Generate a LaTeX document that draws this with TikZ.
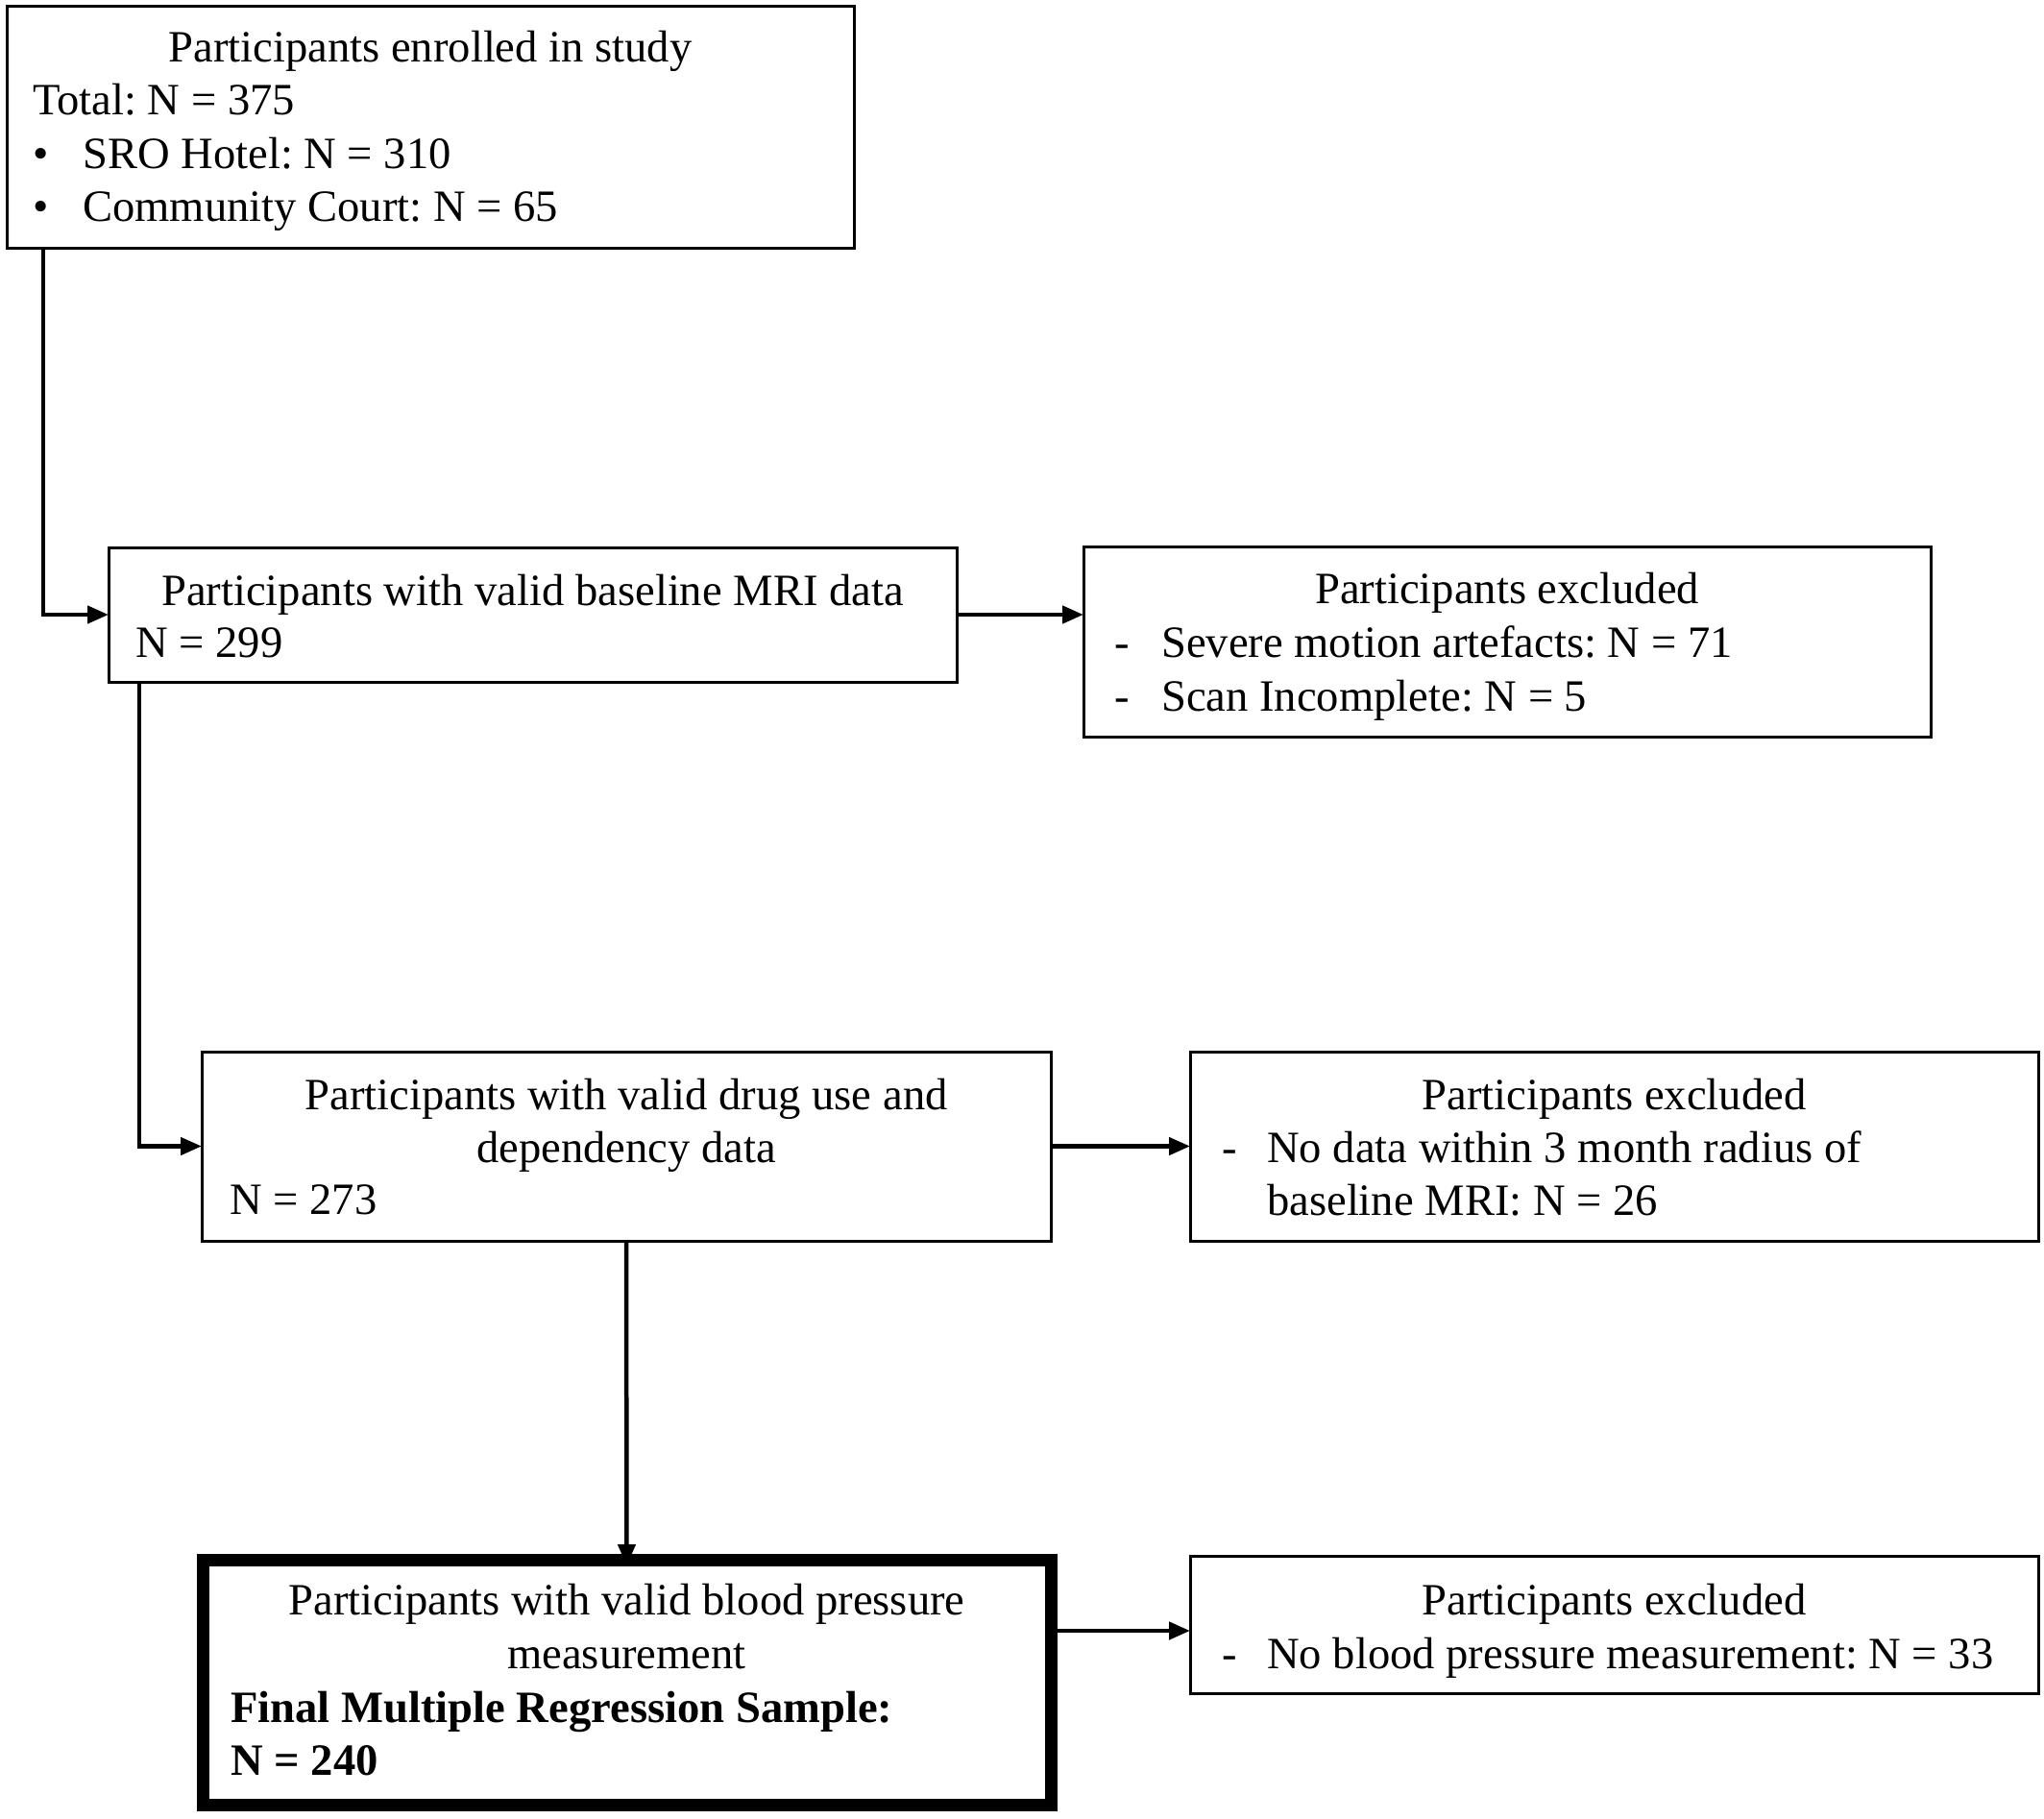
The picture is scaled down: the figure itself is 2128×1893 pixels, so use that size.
\documentclass[tikz,border=0pt]{standalone}
\usepackage{fontspec}
\setmainfont{Liberation Serif}
\usetikzlibrary{arrows.meta}
\frenchspacing
\begin{document}
\begin{tikzpicture}[x=1pt,y=-1pt,
  font=\fontsize{46.6}{56}\selectfont,
  box/.style={draw=black,line width=3pt,rectangle,inner sep=0pt,outer sep=0pt},
  finalbox/.style={draw=black,line width=13pt,rectangle,inner sep=0pt,outer sep=0pt},
  ctext/.style={anchor=base,inner sep=0pt},
  ltext/.style={anchor=base west,inner sep=0pt},
  conn/.style={line width=4.5pt,-{Triangle[length=22pt,width=18pt]}}]
\useasboundingbox (0,0) rectangle (2128,1893);
\fill[white] (0,0) rectangle (2128,1893);
% boxes
\node[box,minimum width=882pt,minimum height=252pt] (b1) at (448,132) {};
\node[box,minimum width=883pt,minimum height=140pt] (b2) at (554.5,640) {};
\node[box,minimum width=882pt,minimum height=198pt] (b3) at (1569,668) {};
\node[box,minimum width=884pt,minimum height=197pt] (b4) at (652,1193.5) {};
\node[box,minimum width=883pt,minimum height=197pt] (b5) at (1680.5,1193.5) {};
\node[finalbox,minimum width=883pt,minimum height=255pt] (b6) at (652.5,1751.5) {};
\node[box,minimum width=883pt,minimum height=143pt] (b7) at (1680.5,1691.5) {};
% box 1 text
\node[ctext] (t11) at (448,64) {Participants enrolled in study};
\node[ltext] (t12) at (34,119.5) {Total: N = 375};
\node[ltext] (t13a) at (34,175) {\textbullet};
\node[ltext] (t13) at (86,175) {SRO Hotel: N = 310};
\node[ltext] (t14a) at (34,230.5) {\textbullet};
\node[ltext] (t14) at (86,230.5) {Community Court: N = 65};
% box 2 text
\node[ctext] (t21) at (554.5,630) {Participants with valid baseline MRI data};
\node[ltext] (t22) at (141,684) {N = 299};
% box 3 text
\node[ctext] (t31) at (1569,628) {Participants excluded};
\node[ltext] (t32a) at (1160,684) {-};
\node[ltext] (t32) at (1209,684) {Severe motion artefacts: N = 71};
\node[ltext] (t33a) at (1160,740) {-};
\node[ltext] (t33) at (1209,740) {Scan Incomplete: N = 5};
% box 4 text
\node[ctext] (t41) at (652,1155) {Participants with valid drug use and};
\node[ctext] (t42) at (652,1210) {dependency data};
\node[ltext] (t43) at (239,1264) {N = 273};
% box 5 text
\node[ctext] (t51) at (1680.5,1155) {Participants excluded};
\node[ltext] (t52a) at (1272,1210) {-};
\node[ltext] (t52) at (1319,1210) {No data within 3 month radius of};
\node[ltext] (t53) at (1319,1265) {baseline MRI: N = 26};
% box 6 text
\node[ctext] (t61) at (652.5,1681) {Participants with valid blood pressure};
\node[ctext] (t62) at (652.5,1737) {measurement};
\node[ltext] (t63) at (240,1793) {\bfseries Final Multiple Regression Sample:};
\node[ltext] (t64) at (240,1848) {\bfseries N = 240};
% box 7 text
\node[ctext] (t71) at (1680.5,1681) {Participants excluded};
\node[ltext] (t72a) at (1272,1737) {-};
\node[ltext] (t72) at (1319,1737) {No blood pressure measurement: N = 33};
% connectors
\coordinate (c1) at (45,258);
\draw[conn] (c1 |- b1.south) |- (b2.west);
\draw[conn] (b2.east) -- (b2.east -| b3.west);
\coordinate (c2) at (145,710);
\draw[conn] (c2 |- b2.south) |- (b4.west);
\draw[conn] (b4.east) -- (b5.west);
\draw[conn] (b4.south) -- ([yshift=-6pt]b6.north);
\coordinate (c3) at (1100,1698);
\draw[conn] (c3 -| b6.east) ++(6.5,0) -- (c3 -| b7.west);
\end{tikzpicture}
\end{document}
